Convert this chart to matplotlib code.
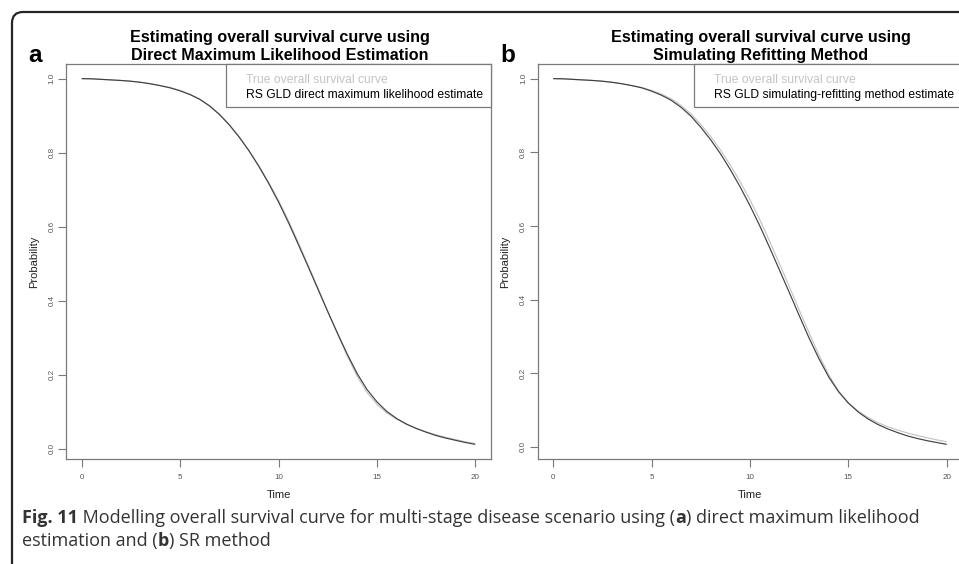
import numpy as np
import matplotlib
matplotlib.use("Agg")
import matplotlib.pyplot as plt
from matplotlib.patches import FancyBboxPatch, Rectangle
from matplotlib.transforms import IdentityTransform

# ---- data: overall survival probability on a half-year grid ----
time = np.arange(0, 20.5, 0.5)

true_survival = [
    1.000, 0.9995, 0.998, 0.9965, 0.995, 0.993, 0.990, 0.986, 0.981, 0.976,
    0.968, 0.958, 0.945, 0.927, 0.904, 0.876, 0.843, 0.806, 0.765, 0.720,
    0.671, 0.617, 0.558, 0.497, 0.435, 0.372, 0.310, 0.250, 0.196, 0.152,
    0.120, 0.097, 0.080, 0.066, 0.055, 0.046, 0.038, 0.031, 0.025, 0.019,
    0.014,
]

dml_estimate = [
    1.000, 0.9995, 0.998, 0.9965, 0.995, 0.993, 0.990, 0.986, 0.981, 0.975,
    0.967, 0.957, 0.944, 0.926, 0.903, 0.875, 0.842, 0.805, 0.763, 0.717,
    0.667, 0.612, 0.553, 0.493, 0.432, 0.371, 0.312, 0.255, 0.203, 0.160,
    0.127, 0.101, 0.082, 0.067, 0.055, 0.045, 0.036, 0.029, 0.023, 0.017,
    0.012,
]

sr_estimate = [
    1.000, 0.9995, 0.998, 0.9965, 0.995, 0.993, 0.990, 0.986, 0.981, 0.975,
    0.966, 0.955, 0.941, 0.922, 0.898, 0.868, 0.834, 0.796, 0.753, 0.706,
    0.655, 0.600, 0.541, 0.480, 0.419, 0.357, 0.296, 0.240, 0.190, 0.150,
    0.119, 0.095, 0.076, 0.061, 0.049, 0.039, 0.030, 0.023, 0.017, 0.012,
    0.007,
]

x_ticks = [0, 5, 10, 15, 20]
y_ticks = [0.0, 0.2, 0.4, 0.6, 0.8, 1.0]
true_label = "True overall survival curve"

panels = [
    {
        "letter": "a",
        "title": "Estimating overall survival curve using\nDirect Maximum Likelihood Estimation",
        "estimate": dml_estimate,
        "label": "RS GLD direct maximum likelihood estimate",
    },
    {
        "letter": "b",
        "title": "Estimating overall survival curve using\nSimulating Refitting Method",
        "estimate": sr_estimate,
        "label": "RS GLD simulating-refitting method estimate",
    },
]

# ---- styling ----
W, H = 959, 564
SANS = ["Liberation Sans", "DejaVu Sans"]
CAPTION_FONT = ["Open Sans", "DejaVu Sans"]
TRUE_COLOR = "#c4c4c4"
EST_COLOR = "#404040"
AXIS_COLOR = "#7a7a7a"

plt.rcParams["font.family"] = SANS

fig = plt.figure(figsize=(W / 100, H / 100), dpi=100)
fig.patch.set_facecolor("white")
renderer = fig.canvas.get_renderer()


def fx(px):
    return px / W


def fy(py):
    return 1 - py / H


def add_legend(right_px, top_px, labels, colors):
    """R-style text-only legend box anchored at the plot's top-right corner."""
    texts = []
    for i, (lab, col) in enumerate(zip(labels, colors)):
        tt = fig.text(0, fy(top_px + 16 + 15 * i), lab, ha="left", va="center",
                      fontsize=8.7, color=col, zorder=5)
        texts.append(tt)
    width = max(tt.get_window_extent(renderer).width for tt in texts)
    left_px = right_px - (width + 20 + 8)
    for tt in texts:
        tt.set_x(fx(left_px + 20))
    box = Rectangle((left_px, H - (top_px + 43)), right_px - left_px, 43,
                    transform=IdentityTransform(), facecolor="white",
                    edgecolor=AXIS_COLOR, linewidth=0.9, zorder=4)
    fig.patches.append(box)


# panel geometry in pixels: (left, top, right, bottom), title centre, letter x
geom = [
    dict(box=(66, 64, 491, 459), title_x=280, letter_x=28),
    dict(box=(537.5, 64, 962.5, 459), title_x=761, letter_x=500),
]

for panel, g in zip(panels, geom):
    l, t, r, b = g["box"]
    ax = fig.add_axes([fx(l), fy(b), fx(r) - fx(l), fy(t) - fy(b)])

    est = panel["estimate"]
    ax.plot(time, true_survival, color=TRUE_COLOR, lw=0.85, solid_capstyle="butt")
    ax.plot(time, est, color=EST_COLOR, lw=0.85, solid_capstyle="butt")

    # R-style 4% padding around the data range
    xmin, xmax = float(np.min(time)), float(np.max(time))
    ymin = min(min(true_survival), min(est))
    ymax = max(max(true_survival), max(est))
    xp, yp = 0.04 * (xmax - xmin), 0.04 * (ymax - ymin)
    ax.set_xlim(xmin - xp, xmax + xp)
    ax.set_ylim(ymin - yp, ymax + yp)

    ax.set_xticks(x_ticks)
    ax.set_xticklabels([str(v) for v in x_ticks])
    ax.set_yticks(y_ticks)
    ax.set_yticklabels([f"{v:.1f}" for v in y_ticks])

    for sp in ax.spines.values():
        sp.set_color(AXIS_COLOR)
        sp.set_linewidth(0.9)
    ax.tick_params(axis="both", direction="out", length=5.5, width=0.8,
                   color=AXIS_COLOR, labelsize=5.8, labelcolor="#555555")
    ax.tick_params(axis="x", pad=5)
    ax.tick_params(axis="y", pad=2)
    for lab in ax.get_yticklabels():
        lab.set_rotation(90)
        lab.set_va("center")

    ax.set_xlabel("Time", fontsize=8, color="#222222", labelpad=7)
    ax.set_ylabel("Probability", fontsize=8, color="#222222", labelpad=7)

    add_legend(r, t, [true_label, panel["label"]], [TRUE_COLOR, "black"])

    fig.text(fx(g["title_x"]), fy(46.5), panel["title"], ha="center", va="center",
             fontsize=11.6, fontweight="bold", color="black", linespacing=1.28)
    fig.text(fx(g["letter_x"]), fy(62), panel["letter"], ha="left", va="baseline",
             fontsize=17.5, fontweight="bold", color="black")

# rounded frame around the figure
frame = FancyBboxPatch((12, -40), W + 40, H - 12 + 40,
                       boxstyle="round,pad=0,rounding_size=11",
                       transform=IdentityTransform(), facecolor="none",
                       edgecolor="#262626", linewidth=1.6, zorder=10)
fig.patches.append(frame)

# caption with mixed bold / regular runs
CAP_SIZE = 13
CAP_COLOR = "#333333"


def caption_line(runs, x_px, base_px):
    x = x_px
    for text, weight in runs:
        tt = fig.text(x / W, fy(base_px), text, ha="left", va="baseline",
                      fontsize=CAP_SIZE, fontweight=weight, color=CAP_COLOR,
                      family=CAPTION_FONT)
        bb = tt.get_window_extent(renderer)
        x = bb.x1


space = " "
caption_line([("Fig. 11", "bold"),
              (space + "Modelling overall survival curve for multi-stage disease scenario using (", "normal"),
              ("a", "bold"),
              (") direct maximum likelihood", "normal")], 22, 523)
caption_line([("estimation and (", "normal"),
              ("b", "bold"),
              (") SR method", "normal")], 22, 546)

fig.savefig("out.png", dpi=100)
